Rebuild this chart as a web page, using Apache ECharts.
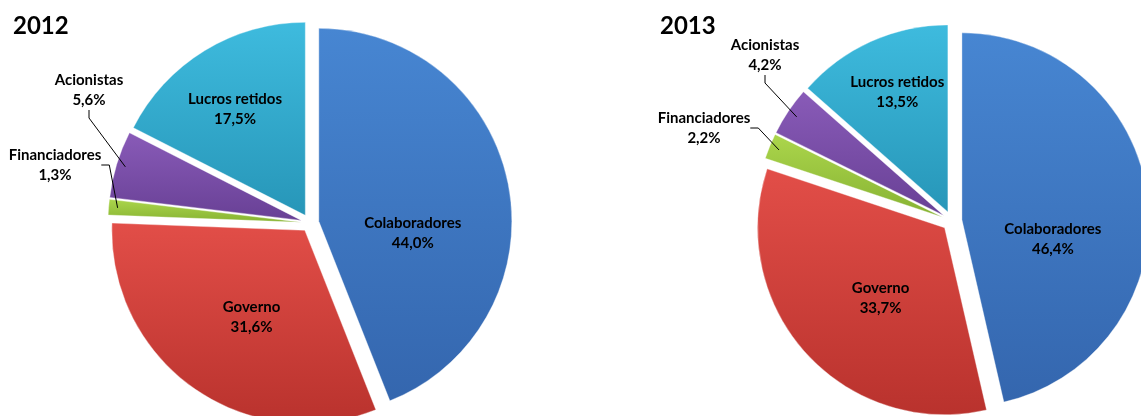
<!DOCTYPE html>
<html>
<head>
<meta charset="utf-8">
<script src="https://cdn.jsdelivr.net/npm/echarts@6/dist/echarts.min.js"></script>
<style>
  html, body { margin: 0; padding: 0; background: #fff; }
  #chart { width: 1141px; height: 416px; }
</style>
</head>
<body>
<div id="chart"></div>
<script>
  // categories in clockwise order from 12 o'clock
  const categories = ['Colaboradores', 'Governo', 'Financiadores', 'Acionistas', 'Lucros retidos']
  const years = ['2012', '2013']
  const values2012 = [44.0, 31.6, 1.3, 5.6, 17.5]
  const values2013 = [46.4, 33.7, 2.2, 4.2, 13.5]

  const colors = [
    ['#4786d2', '#3466ae'],
    ['#e24e48', '#b9322d'],
    ['#acd64c', '#86b232'],
    ['#895bb8', '#684095'],
    ['#3ebbde', '#2796b8']
  ]
  // the two small slices get their labels outside, with a leader line
  const outsideIdx = [2, 3]
  // label placement tweaks (per chart): absolute spot for outside labels,
  // nudge for the inside ones
  const labelTweaks = [
    {0: {dx: 5, dy: 29}, 1: {dx: -1, dy: 13}, 2: {x: 55, y: 165}, 3: {x: 89, y: 90}, 4: {dx: -23, dy: -29}},
    {0: {dx: 5, dy: 29}, 1: {dx: 0, dy: 12}, 2: {x: 704, y: 128}, 3: {x: 765, y: 55}, 4: {dx: -15, dy: -41}}
  ]

  const fmt = v => v.toFixed(1).replace('.', ',') + '%'

  function grad(c) {
    return {
      type: 'linear', x: 0, y: 0, x2: 0, y2: 1,
      colorStops: [{offset: 0, color: c[0]}, {offset: 1, color: c[1]}]
    }
  }

  // exploded slices, no text
  function sliceSeries(values, center, radius, offset) {
    return {
      type: 'pie',
      center: center,
      radius: radius,
      startAngle: 90,
      clockwise: true,
      selectedMode: 'multiple',
      selectedOffset: offset,
      animation: false,
      silent: true,
      label: {show: false},
      labelLine: {show: false},
      itemStyle: {
        borderColor: 'rgba(255,255,255,0.35)',
        borderWidth: 1
      },
      data: values.map((v, i) => ({
        name: categories[i],
        value: v,
        selected: true,
        itemStyle: {color: grad(colors[i])}
      }))
    }
  }

  // same pie, invisible, only carrying the labels
  function labelSeries(idx, values, center, radius) {
    return {
      type: 'pie',
      center: center,
      radius: radius,
      startAngle: 90,
      clockwise: true,
      animation: false,
      silent: true,
      avoidLabelOverlap: false,
      z: 3,
      itemStyle: {color: 'rgba(0,0,0,0)'},
      label: {
        show: true,
        color: '#000',
        fontFamily: 'Lato',
        fontWeight: 'bold',
        fontSize: 15,
        lineHeight: 20,
        align: 'center',
        formatter: p => p.name + '\n' + fmt(p.value)
      },
      labelLine: {
        length: 8,
        length2: 8,
        lineStyle: {color: '#000', width: 1}
      },
      labelLayout: function (params) {
        const t = labelTweaks[idx][params.dataIndex]
        if (t.x != null) return {x: t.x, y: t.y, align: 'center', verticalAlign: 'middle'}
        return {dx: t.dx, dy: t.dy}
      },
      data: values.map((v, i) => {
        const outside = outsideIdx.indexOf(i) !== -1
        return {
          name: categories[i],
          value: v,
          label: {position: outside ? 'outside' : 'inside'},
          labelLine: {show: outside}
        }
      })
    }
  }

  const titleStyle = {fontFamily: 'Lato', fontWeight: 'bold', fontSize: 24, color: '#000'}

  const chart = echarts.init(document.getElementById('chart'))
  chart.setOption({
    backgroundColor: '#fff',
    title: [
      {text: years[0], left: 8, top: 9, textStyle: titleStyle},
      {text: years[1], left: 655, top: 9, textStyle: titleStyle}
    ],
    series: [
      sliceSeries(values2012, [310, 223], 193, 9),
      sliceSeries(values2013, [952, 221], 187, 10),
      labelSeries(0, values2012, [310, 223], 193),
      labelSeries(1, values2013, [952, 221], 187)
    ]
  })
</script>
</body>
</html>
